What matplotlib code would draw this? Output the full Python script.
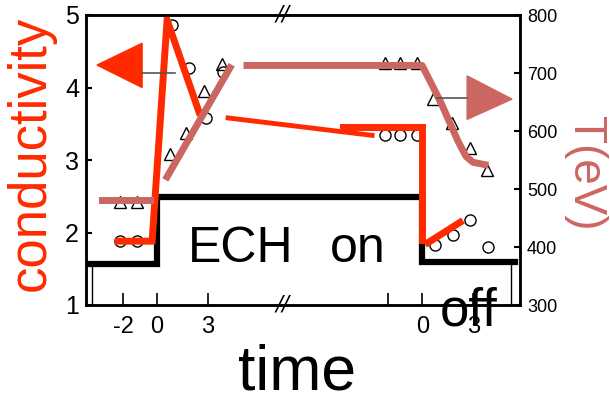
import matplotlib
matplotlib.use("Agg")
from matplotlib import pyplot as plt
from matplotlib.patches import Polygon

RED = '#ff2a00'
SALMON = '#cc6660'
NARROW = ['Liberation Sans Narrow', 'Liberation Sans', 'DejaVu Sans']
SANS = ['Liberation Sans', 'DejaVu Sans']

# time axis has a break: the second segment (around ECH off) is shifted
SHIFT = 15.6

# measured points, ECH on (time) and ECH off (time, before shift)
t_cond_on = [-2.2, -1.2, 0.9, 1.9, 2.9, 3.9]
cond_on = [1.88, 1.88, 4.86, 4.27, 3.58, 4.21]
t_cond_off = [-2.2, -1.3, -0.3, 0.75, 1.8, 2.8, 3.85]
cond_off = [3.34, 3.34, 3.34, 1.83, 1.97, 2.17, 1.80]

t_te_on = [-2.2, -1.2, 0.75, 1.7, 2.75, 3.8]
te_on = [478, 478, 560, 596, 669, 716]
t_te_off = [-2.2, -1.3, -0.3, 0.65, 1.75, 2.8, 3.8]
te_off = [718, 718, 718, 655, 614, 570, 533]

# hand drawn trend lines (time position, value)
red_x1 = [-2.29, -0.29, 0.59, 2.47]
red_y1 = [1.88, 1.88, 4.93, 3.66]
red_x2 = [4.18, 12.65]
red_y2 = [3.58, 3.34]
red_x3 = [10.94, 15.59, 15.59]
red_y3 = [3.46, 3.46, 1.90]
red_x4 = [15.94, 17.82]
red_y4 = [1.86, 2.14]

sal_x1 = [-3.24, -0.41]
sal_y1 = [481, 481]
sal_x2 = [0.59, 4.29]
sal_y2 = [521, 709]
sal_x3 = [5.29, 15.59, 16.65, 17.71, 18.18, 18.59, 19.29]
sal_y3 = [713, 713, 652, 582, 556, 546, 542]

# ECH power step
ech_x = [-4.18, 0.0, 0.0, 15.59, 15.59, 21.06]
ech_y = [1.566, 1.566, 2.49, 2.49, 1.59, 1.59]

tick_pos = [-2, 0, 3, -2 + SHIFT, SHIFT, 3 + SHIFT]
tick_lab = ['-2', '0', '3', '', '0', '3']

fig = plt.figure(figsize=(6.1, 3.97), dpi=100)
ax = fig.add_axes([86 / 610, 1 - 305 / 397, 434 / 610, 290 / 397])
ax2 = ax.twinx()

ax.set_xlim(-4.18, 21.35)
ax.set_ylim(1, 5)
ax2.set_ylim(300, 800)

for a in (ax, ax2):
    for s in a.spines.values():
        s.set_linewidth(1.8)
ax.set_xticks(tick_pos)
ax.set_xticklabels(tick_lab, family=NARROW, fontsize=17)
ax.set_yticks([1, 2, 3, 4, 5])
ax.set_yticklabels(['1', '2', '3', '4', '5'], family=NARROW, fontsize=18)
ax2.set_yticks([300, 400, 500, 600, 700, 800])
ax2.set_yticklabels(['300', '400', '500', '600', '700', '800'], family=NARROW, fontsize=13)
ax.tick_params(axis='x', direction='in', length=9, width=1.2, pad=8)
ax.tick_params(axis='y', direction='in', length=4, width=1.5, pad=5)
ax2.tick_params(axis='y', direction='in', length=4, width=1.5, pad=5)

# axis breaks
ax.text(7.41, 5, '//', ha='center', va='center', fontsize=15, style='italic', clip_on=False)
ax.text(7.41, 1, '//', ha='center', va='center', fontsize=15, style='italic', clip_on=False)

# thin verticals from original scan
ax.plot([-3.82, -3.82], [1, 1.566], color='black', lw=1)
ax.plot([20.82, 20.82], [1, 1.59], color='black', lw=1)

ax.plot(ech_x, ech_y, color='black', lw=4.5, solid_joinstyle='miter')

mk = dict(ls='none', mfc='none', mec='black', mew=1.0, ms=8)
ax.plot(t_cond_on, cond_on, marker='o', **mk)
ax.plot([t + SHIFT for t in t_cond_off], cond_off, marker='o', **mk)
ax2.plot(t_te_on, te_on, marker='^', **mk)
ax2.plot([t + SHIFT for t in t_te_off], te_off, marker='^', **mk)

ax.plot(red_x1, red_y1, color=RED, lw=5, solid_joinstyle='miter')
ax.plot(red_x2, red_y2, color=RED, lw=3.5)
ax.plot(red_x3, red_y3, color=RED, lw=5, solid_joinstyle='miter')
ax.plot(red_x4, red_y4, color=RED, lw=5)

ax2.plot(sal_x1, sal_y1, color=SALMON, lw=5)
ax2.plot(sal_x2, sal_y2, color=SALMON, lw=5)
ax2.plot(sal_x3, sal_y3, color=SALMON, lw=5)

# arrows pointing to the axes
ax.plot([-0.88, 1.06], [4.2, 4.2], color='#555555', lw=1.2)
ax.add_patch(Polygon([[-3.53, 4.31], [-0.88, 4.61], [-0.88, 4.0]], closed=True, color=RED, clip_on=False))
ax2.plot([16.47, 18.24], [657, 657], color='#555555', lw=1.2)
ax2.add_patch(Polygon([[20.88, 655], [18.24, 695], [18.24, 620]], closed=True, color=SALMON, clip_on=False))

ax.text(1.82, 1.59, 'ECH', fontsize=36, family=SANS, ha='left', va='baseline')
ax.text(10.18, 1.59, 'on', fontsize=36, family=SANS, ha='left', va='baseline')
ax.text(16.65, 0.72, 'off', fontsize=38, family=SANS, ha='left', va='baseline', clip_on=False)

fig.text(31 / 610, 1 - 153 / 397, 'conductivity', rotation=90, color=RED, fontsize=38,
         family=SANS, ha='center', va='center')
fig.text(585 / 610, 1 - 173 / 397, 'T(eV)', rotation=270, color=SALMON, fontsize=33,
         family=SANS, ha='center', va='center')
fig.text(297 / 610, 1 - 389 / 397, 'time', color='black', fontsize=45,
         family=SANS, ha='center', va='baseline')

fig.savefig('out.png', dpi=100)
